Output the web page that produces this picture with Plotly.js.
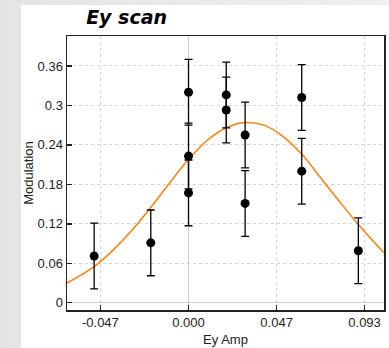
<!DOCTYPE html>
<html>
<head>
<meta charset="utf-8">
<script src="https://cdn.plot.ly/plotly-3.0.1.min.js"></script>
<style>
html,body{margin:0;padding:0;width:389px;height:348px;overflow:hidden;background:linear-gradient(90deg,#e4e4e4,#efefef);}
#chart{position:absolute;left:21px;top:5px;width:368px;height:343px;}
</style>
</head>
<body>
<div id="chart"></div>
<script>
// Measured points
const ampX = [-0.05, -0.02, 0, 0, 0, 0.02, 0.02, 0.03, 0.03, 0.06, 0.06, 0.09];
const modY = [0.071, 0.091, 0.320, 0.223, 0.167, 0.316, 0.293, 0.255, 0.151, 0.312, 0.200, 0.079];
const modErr = [0.05, 0.05, 0.05, 0.05, 0.05, 0.05, 0.05, 0.05, 0.05, 0.05, 0.05, 0.05];
// Fit curve
const fitX = [-0.0644, -0.06, -0.05, -0.04, -0.03, -0.02, -0.01, 0, 0.01, 0.02, 0.03, 0.04, 0.05, 0.06, 0.07, 0.08, 0.09, 0.1, 0.1036];
const fitY = [0.030, 0.037, 0.055, 0.080, 0.110, 0.145, 0.182, 0.218, 0.247, 0.266, 0.274, 0.270, 0.253, 0.226, 0.190, 0.154, 0.119, 0.087, 0.076];
// Ticks
const xTickVals = [-0.0467, 0, 0.0467, 0.0933];
const xTickText = ['-0.047', '0.000', '0.047', '0.093'];
const yTickVals = [0, 0.06, 0.12, 0.18, 0.24, 0.3, 0.36];
const yTickText = ['0', '0.06', '0.12', '0.18', '0.24', '0.3', '0.36'];

const traces = [
  {x: fitX, y: fitY, type: 'scatter', mode: 'lines', line: {color: '#ff7f0e', width: 1.5, shape: 'spline', smoothing: 1}, hoverinfo: 'skip'},
  {x: ampX, y: modY, type: 'scatter', mode: 'markers',
   marker: {color: '#000', size: 9},
   error_y: {type: 'data', array: modErr, visible: true, color: '#000', thickness: 1.3, width: 4}}
];

const font = {family: '"Liberation Sans", Arial, sans-serif', size: 13, color: '#222'};
const layout = {
  width: 368, height: 343,
  margin: {l: 46, r: 4.5, t: 31, b: 38},
  paper_bgcolor: '#fff', plot_bgcolor: '#fff',
  showlegend: false,
  font: font,
  title: {text: '<b><i>Ey scan</i></b>', font: {family: '"DejaVu Sans", sans-serif', size: 19, color: '#000'},
          xref: 'container', yref: 'container', x: 0.177, xanchor: 'left', y: 0.963, yanchor: 'middle'},
  xaxis: {range: [-0.0644, 0.1036], tickvals: xTickVals, ticktext: xTickText,
          ticks: 'inside', ticklen: 5, tickcolor: '#222', tickwidth: 1.5,
          showline: true, mirror: true, linecolor: '#222', linewidth: 1.5,
          showgrid: true, gridcolor: '#d4d4d4', griddash: 'dot', gridwidth: 1,
          zeroline: true, zerolinecolor: '#cccccc', zerolinewidth: 1,
          tickfont: font, title: {text: 'Ey Amp', font: font, standoff: 6}},
  yaxis: {range: [-0.0111, 0.4056], tickvals: yTickVals, ticktext: yTickText,
          ticks: 'inside', ticklen: 5, tickcolor: '#222', tickwidth: 1.5,
          showline: true, mirror: true, linecolor: '#222', linewidth: 1.5,
          showgrid: true, gridcolor: '#d4d4d4', griddash: 'dot', gridwidth: 1,
          zeroline: true, zerolinecolor: '#cccccc', zerolinewidth: 1,
          tickfont: font, title: {text: 'Modulation', font: font, standoff: 6}}
};
Plotly.newPlot('chart', traces, layout, {displayModeBar: false, staticPlot: true});
</script>
</body>
</html>
